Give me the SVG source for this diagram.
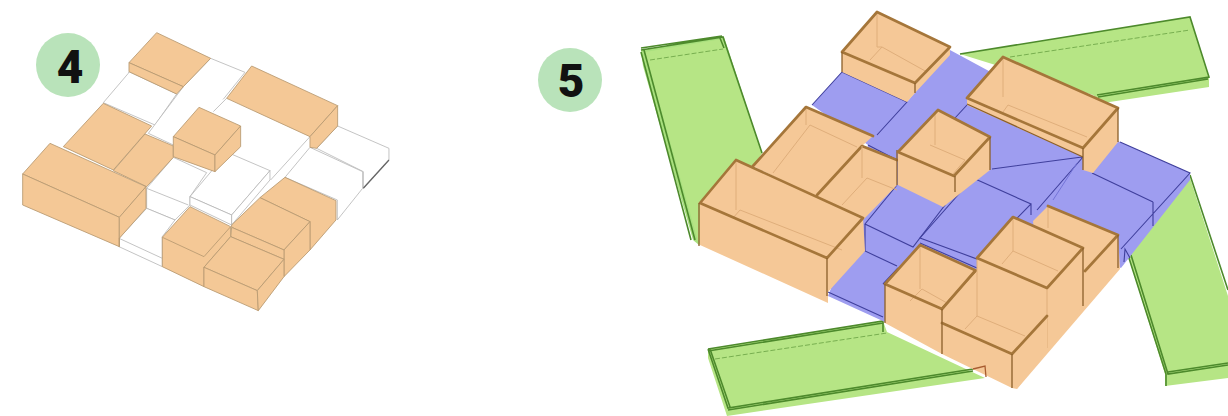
<svg xmlns="http://www.w3.org/2000/svg" width="1228" height="416" viewBox="0 0 1228 416">
<style>
.o{fill:#f4c896;stroke:#b89a72;stroke-width:2.6;stroke-linejoin:round}
.w{fill:#fff;stroke:#b5b5b5;stroke-width:2.4;stroke-linejoin:round}
.wf{fill:#fff;stroke:none}
.wl{fill:none;stroke:#b5b5b5;stroke-width:2.4}
.d{fill:none;stroke:#666;stroke-width:4}
.of{fill:#f5c897;stroke:none}
.b{fill:#9e9df0;stroke:none}
.g{fill:#b6e585;stroke:none}
.gl{fill:#a8e07e;stroke:none}
.gd{fill:none;stroke:#4d8a2c;stroke-width:1.6}
.gh{fill:none;stroke:#4d8a2c;stroke-width:.6;stroke-dasharray:5 2}
.br{fill:none;stroke:#a5763a;stroke-width:2.7;stroke-linejoin:round;stroke-linecap:round}
.bt{fill:none;stroke:#8a5f2a;stroke-width:1.3}
.in{fill:none;stroke:#dfae7b;stroke-width:1}
.bl{fill:none;stroke:#3f3f9c;stroke-width:1.1}
.bs{fill:none;stroke:#7474d8;stroke-width:1}
.c{fill:#b9e3ba}
.n{font-family:"Roboto","Liberation Sans",sans-serif;font-weight:900;fill:#111;text-anchor:middle}
</style>
<g id="badge-4"><circle class="c" cx="68" cy="65" r="32"/><text class="n" x="70" y="83" font-size="46">4</text></g>
<g id="badge-5"><circle class="c" cx="570" cy="80" r="32"/><text class="n" x="571" y="97" font-size="46">5</text></g>
<g id="massing-4" transform="translate(0 20) scale(.3333)">
<g id="open-space-4">
<path class="w" d="M310 248L385 160L387 155L530 222L465 315Z"/>
<path class="w" d="M632 115L735 157L640 275L520 375L445 340L550 200Z"/>
<path class="wf" d="M680 235L930 350V382L812 500V450L682 397L720 360L597 262Z"/>
<path class="wl" d="M680 235L640 275M930 350L812 480"/>
<path class="w" d="M1013 318L1167 385V420L1090 505V455L950 385Z"/>
<path class="d" d="M1167 420L1090 505"/>
<path class="w" d="M930 382L1088 455V505L1012 600V540L855 472Z"/>
<path class="w" d="M520 412L620 458L570 530V555L525 600L440 565V505Z"/>
<path class="wl" d="M440 505L565 555"/>
<path class="w" d="M440 565L525 600L487 650V740L357 680V655Z"/>
<path class="wl" d="M357 655L487 715"/>
<path class="w" d="M682 397L810 452L695 585L570 530Z"/>
<path class="w" d="M570 530V555L695 615V585Z"/>
<path class="w" d="M810 452V480L695 615V585Z"/>
</g>
<g id="blocks-4">
<path class="o" d="M470 38L632 115L550 200L387 128Z"/>
<path class="o" d="M387 128V155L530 222L550 200Z"/>
<path class="o" d="M310 250L455 318L340 450L190 380Z"/>
<path class="o" d="M435 342L520 378V412L440 500L340 452Z"/>
<path class="o" d="M150 370L438 500L358 592L68 462Z"/>
<path class="o" d="M68 462L358 592V680L68 555Z"/>
<path class="o" d="M358 592L438 500V565L358 655V680Z"/>
<path class="o" d="M597 262L722 318L645 405L520 350Z"/>
<path class="o" d="M520 350L645 405V455L520 410Z"/>
<path class="o" d="M722 318V380L645 455V405Z"/>
<path class="o" d="M755 138L1013 257L930 350L680 235Z"/>
<path class="o" d="M1013 257V318L950 385L930 382V350Z"/>
<path class="o" d="M855 472L1008 542V600L930 690V605L780 533Z"/>
<path class="o" d="M780 533L930 605L852 690L695 622V615Z"/>
<path class="o" d="M930 605V690L852 770V690Z"/>
<path class="o" d="M695 622L852 690V718L692 650Z"/>
<path class="o" d="M570 560L692 620V650L612 742V800L487 740V652Z"/>
<path class="o" d="M487 652L612 710L692 620" style="fill:none"/>
<path class="o" d="M692 650L852 718L772 812L612 742Z"/>
<path class="o" d="M612 742L772 812L775 872L612 800Z"/>
<path class="o" d="M852 718V770L775 872L772 812Z"/>
</g>
</g>
<g id="gardens-5">
<path class="gl" d="M641 50L724 37L762 153L699 245L693 240L643 66Z"/>
<path class="g" d="M645 52L722 39L762 153L699 245Z"/>
<path class="g" d="M960 54L1190 17L1209 77V87L1103 103L1093 95Z"/>
<path class="g" d="M708 349L883 321L887 332L985 378L727 416L708 358Z"/>
<path class="g" d="M1190 178L1228 296V378L1165 386V374L1128 255Z"/>
<path class="gd" d="M641 50L723 37L762 153M644 50L695 240M641 52L691 240M720 38L724 48M641 48L722 36"/>
<path class="gh" d="M650 60L723 49"/>
<path class="gd" d="M960 54L1190 17L1209 77L1097 95M1208 79L1098 97"/>
<path class="gh" d="M1010 57L1190 30"/>
<path class="gd" d="M708 349L883 321V332M708 351L883 323M708 349L728 408L973 369M710 349L730 407M728 410L973 371"/>
<path class="gh" d="M715 359L887 333"/>
<path class="gd" d="M1190 175L1228 290M1128 255L1166 374V386M1131 255L1168 374L1228 365M1168 372L1228 363"/>
</g>
<g id="plaza-5">
<path class="b" d="M812 105L842 72L907 102L950 50L1120 142L1190 173V180L1121 268L1083 248L977 271L885 322L828 296L850 240L868 145Z"/>
<path class="bl" d="M812 105L842 72M842 72L907 102L877 135M868 145L897 160"/>
<path class="bl" d="M955 118L967 105M992 169L1082 157M1083 157L1037 210M1092 173L1153 202M1120 142L1190 173L1121 249M1153 202V226"/>
<path class="bs" d="M1077 163L1053 200"/>
<path class="bl" d="M973 178L1031 204L977 259L920 238L973 178M920 243L977 268M1031 204V215"/>
<path class="bl" d="M905 187L945 205L913 247L865 224L897 185M865 224V251L897 266M883 284L898 268M828 292L883 317"/>
<path class="bl" d="M1124 262L1125 249L1130 258"/>
</g>
<g id="massing-5">
<g id="block-top">
<path class="of" d="M877 12L950 47V55L915 93L907 102L842 72V52Z"/>
<path class="in" d="M877 12V47H882M882 47L870 60M882 47L927 72"/>
<path class="br" d="M842 52L877 12L950 47L915 83L842 52"/>
<path class="bt" d="M842 52V72M915 83V93"/>
</g>
<g id="block-upper-right">
<path class="of" d="M1003 57L1118 108V142L1093 173L1083 170V157L967 105V98Z"/>
<path class="in" d="M1003 57V97M1008 105L1087 137M1008 105L1003 112"/>
<path class="br" d="M967 98L1003 57L1118 108L1083 148Z"/>
<path class="bt" d="M967 104L1083 157M1083 148V170M1118 108V142"/>
</g>
<g id="block-mid-left">
<path class="of" d="M806 107L873 136L862 146L897 160V185L863 220L753 166Z"/>
<path class="in" d="M806 107V125M810 125L857 147M810 125L773 173"/>
<path class="br" d="M753 166L806 107L873 136"/>
<path class="br" d="M817 195L862 146L897 160"/>
<path class="in" d="M862 146V178M867 178L897 190M867 178L842 205"/>
<path class="bt" d="M897 150V185"/>
</g>
<g id="block-center">
<path class="of" d="M938 110L990 137V170L943 207L898 185V152Z"/>
<path class="in" d="M935 112V145M930 145L965 160M965 160L953 174"/>
<path class="br" d="M898 152L938 110L990 137L954 176Z"/>
<path class="bt" d="M955 176V192M990 137V170"/>
</g>
<g id="block-big">
<path class="of" d="M736 160L863 218L865 251L828 292V303L700 245V203Z"/>
<path class="in" d="M736 160V210M740 210L842 250M740 210L733 218"/>
<path class="br" d="M700 203L736 160L863 218L827 258Z"/>
<path class="bt" d="M827 258V296M699 203V246"/>
</g>
<g id="block-mid-bottom">
<path class="of" d="M920 245L977 271L942 309V354L885 323V284Z"/>
<path class="in" d="M920 245V289M922 289L947 303M922 289L910 301"/>
<path class="br" d="M885 284L920 245L977 271L942 309Z"/>
<path class="bt" d="M885 284V323"/>
</g>
<g id="block-back-right">
<path class="of" d="M1048 206L1118 235L1120 269L1017 389L1040 300L1033 221Z"/>
<path class="in" d="M1048 206V228"/>
<path class="br" d="M1048 206L1118 235L1085 271"/>
<path class="bt" d="M1118 235V268"/>
</g>
<g id="block-tall">
<path class="of" d="M1013 217L1083 248V306L1047 350L1047 316L1012 354L942 323V309L977 271V258Z"/>
<path class="in" d="M1013 217V251M1013 251L1058 271M1013 251L1002 264M977 258V316M977 316L1025 336M977 316L965 329M1047 288V348"/>
<path class="br" d="M977 258L1013 217L1083 248L1047 288Z"/>
<path class="bt" d="M1083 248V306"/>
</g>
<g id="block-lower">
<path class="of" d="M942 323L1012 354L1047 316V348L1017 389L1012 388L942 354Z"/>
<path class="br" d="M942 309L975 271M942 323L1012 354L1047 316"/>
<path class="bt" d="M942 309V354M1012 354V388"/>
</g>
</g>
<g id="connectors"></g>
<path class="bt" style="stroke:#a85c30" d="M973 369L985 366L986 377"/>
</svg>
